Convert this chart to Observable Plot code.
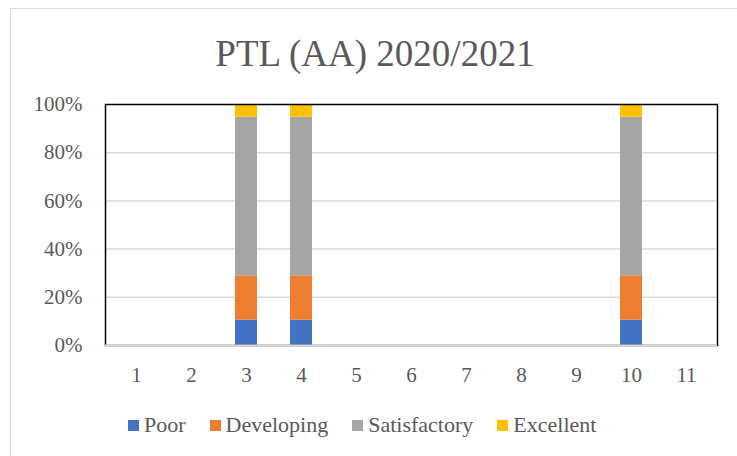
<!DOCTYPE html>
<html>
<head>
<meta charset="utf-8">
<script src="https://cdn.jsdelivr.net/npm/d3@7"></script>
<script src="https://cdn.jsdelivr.net/npm/@observablehq/plot@0.6"></script>
<style>
  html, body { margin: 0; padding: 0; background: #fff; }
  #wrap { position: relative; width: 737px; height: 456px; overflow: hidden; font-family: "Liberation Serif", "Times New Roman", serif; color: #595959; }
  #border { position: absolute; left: 10px; top: 8px; width: 760px; height: 480px; border: 1.5px solid #d9d9d9; box-sizing: border-box; }
  #title { position: absolute; left: 10px; width: 730px; top: 35px; text-align: center; font-size: 37px; line-height: 37px; }
  #chart { position: absolute; left: 0; top: 90px; }
  #legend { position: absolute; left: 128px; top: 414px; display: flex; align-items: center; font-size: 22px; line-height: 22px; }
  .item { display: flex; align-items: center; margin-right: 24px; }
  .sw { width: 11px; height: 11px; margin-right: 5px; }
  #chart svg text { font-family: "Liberation Serif", "Times New Roman", serif; }
</style>
</head>
<body>
<div id="wrap">
  <div id="border"></div>
  <div id="title">PTL (AA) 2020/2021</div>
  <div id="chart"></div>
  <div id="legend"></div>
</div>
<script>
const categories = ["1","2","3","4","5","6","7","8","9","10","11"];
const levels = ["Poor","Developing","Satisfactory","Excellent"];
const colors = ["#4472C4","#ED7D31","#A5A5A5","#FFC000"];
const barCategories = ["3","4","10"];
const poor = [10.5, 10.5, 10.5];
const developing = [18.4, 18.4, 18.4];
const satisfactory = [65.8, 65.8, 65.8];
const excellent = [5.3, 5.3, 5.3];
const yTicks = [0, 20, 40, 60, 80, 100];

const series = [poor, developing, satisfactory, excellent];
const rows = [];
barCategories.forEach((c, i) => {
  levels.forEach((lv, j) => rows.push({cat: c, level: lv, value: series[j][i]}));
});

const chart = Plot.plot({
  width: 737,
  height: 300,
  marginLeft: 105,
  marginRight: 20,
  marginTop: 14,
  marginBottom: 45,
  style: {fontFamily: "'Liberation Serif', 'Times New Roman', serif", fontSize: "21px", color: "#595959", background: "transparent"},
  x: {domain: categories, paddingInner: 0.6, paddingOuter: 0.3, label: null, tickSize: 0, tickPadding: 22},
  y: {domain: [0, 100], ticks: yTicks, tickFormat: d => d + "%", label: null, tickSize: 0, tickPadding: 23},
  color: {domain: levels, range: colors},
  marks: [
    Plot.ruleY(yTicks.filter(t => t > 0 && t < 100), {stroke: "#d9d9d9", strokeWidth: 1.5}),
    Plot.barY(rows, {x: "cat", y: "value", fill: "level", order: levels}),
    Plot.frame({stroke: "#000", strokeWidth: 1.5}),
    Plot.ruleY([0], {stroke: "#d9d9d9", strokeWidth: 2})
  ]
});
document.getElementById("chart").appendChild(chart);

const legend = document.getElementById("legend");
levels.forEach((lv, i) => {
  const it = document.createElement("div");
  it.className = "item";
  const sw = document.createElement("div");
  sw.className = "sw";
  sw.style.background = colors[i];
  const tx = document.createElement("span");
  tx.textContent = lv;
  it.appendChild(sw);
  it.appendChild(tx);
  legend.appendChild(it);
});
</script>
</body>
</html>
